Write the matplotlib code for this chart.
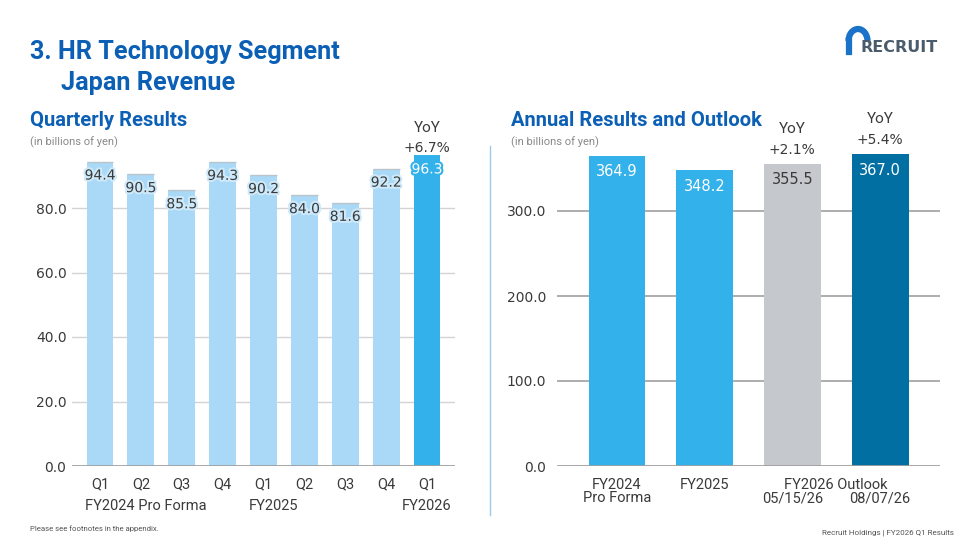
import matplotlib
matplotlib.use("Agg")
import matplotlib.pyplot as plt
import matplotlib.patheffects as pe
from matplotlib.patches import Arc

# ---- data ----
q_labels = ["Q1", "Q2", "Q3", "Q4", "Q1", "Q2", "Q3", "Q4", "Q1"]
q_values = [94.4, 90.5, 85.5, 94.3, 90.2, 84.0, 81.6, 92.2, 96.3]
q_groups = ["FY2024 Pro Forma", "FY2025", "FY2026"]
q_ticks = [0, 20, 40, 60, 80]
q_yoy = "+6.7%"

a_labels = ["FY2024\nPro Forma", "FY2025", "05/15/26", "08/07/26"]
a_values = [364.9, 348.2, 355.5, 367.0]
a_yoy = [None, None, "+2.1%", "+5.4%"]
a_ticks = [0, 100, 200, 300]

W, H = 968, 544
BLUE_T = "#0b5fb5"
LIGHT = "#a9d9f6"
MID = "#33b1ea"
GREY = "#c5c8cc"
DARK = "#026fa3"
TXT = "#3a3a3a"
GRID = "#d3d3d3"
AXIS = "#a0a0a0"

fig = plt.figure(figsize=(W / 100, H / 100), dpi=100)


def fx(px):
    return px / W


def fy(py):
    return 1 - py / H


def ftext(x, y, s, **kw):
    fig.text(fx(x), fy(y), s, **kw)


def px_axes(left, top, right, bottom):
    return fig.add_axes([fx(left), fy(bottom), (right - left) / W, (bottom - top) / H])


# ---- titles ----
ftext(30, 59, "3. HR Technology Segment", fontsize=18.2, fontweight="bold",
      color=BLUE_T, family="Roboto", va="baseline")
ftext(61, 90, "Japan Revenue", fontsize=18.2, fontweight="bold",
      color=BLUE_T, family="Roboto", va="baseline")
ftext(30, 126, "Quarterly Results", fontsize=14.5, fontweight="bold",
      color=BLUE_T, family="Roboto", va="baseline")
ftext(511, 126, "Annual Results and Outlook", fontsize=14.5, fontweight="bold",
      color=BLUE_T, family="Roboto", va="baseline")
ftext(30, 145, "(in billions of yen)", fontsize=8, color="#888888",
      family="Roboto", va="baseline")
ftext(511, 145, "(in billions of yen)", fontsize=8, color="#888888",
      family="Roboto", va="baseline")

# ---- left chart: quarterly ----
q_py = 3.225
q_step = 40.875
ax1 = px_axes(72, 140, 455, 466)
ax1.set_xlim((72 - 100) / q_step, (455 - 100) / q_step)
ax1.set_ylim(0, 326 / q_py)
qx = list(range(len(q_values)))
q_colors = [LIGHT] * (len(q_values) - 1) + [MID]
ax1.bar(qx, q_values, width=0.66, color=q_colors, zorder=2,
        edgecolor="none")
# thin shadow on bar tops
for x, v, c in zip(qx, q_values, q_colors):
    if c == LIGHT:
        ax1.plot([x - 0.33, x + 0.33], [v, v], color="#b9c4cc", lw=1,
                 zorder=3, solid_capstyle="butt")
for t in q_ticks[1:]:
    ax1.axhline(t, color=GRID, lw=1, zorder=1)
ax1.axhline(0, color=AXIS, lw=2, zorder=4)
for x, v, c in zip(qx, q_values, q_colors):
    if c == MID:
        ax1.text(x, v - 14 / q_py, f"{v:.1f}", ha="center", va="center",
                 fontsize=10, color="white", zorder=5,
                 path_effects=[pe.withStroke(linewidth=3, foreground=MID)])
    else:
        ax1.text(x, v - 14 / q_py, f"{v:.1f}", ha="center", va="center",
                 fontsize=10, color=TXT, zorder=5,
                 path_effects=[pe.withStroke(linewidth=3, foreground="#cde9fa")])
ax1.text(qx[-1], q_values[-1] + 27 / q_py, "YoY", ha="center", va="center",
         fontsize=11, color=TXT, family="Roboto")
ax1.text(qx[-1], q_values[-1] + 7 / q_py, q_yoy, ha="center", va="center",
         fontsize=10, color=TXT)
ax1.set_yticks(q_ticks)
ax1.set_yticklabels([f"{t:.1f}" for t in q_ticks], fontsize=10, color=TXT)
ax1.set_xticks(qx)
ax1.set_xticklabels(q_labels, fontsize=10.5, color=TXT, family="Roboto")
ax1.tick_params(axis="both", length=0)
ax1.tick_params(axis="y", pad=4)
ax1.tick_params(axis="x", pad=8)
for s in ax1.spines.values():
    s.set_visible(False)
ax1.patch.set_alpha(0)
# group labels
for gx, g in zip([1.12, 4.25, 8.0], q_groups):
    ax1.text(gx, -40 / q_py, g, ha="center", va="center",
             fontsize=10.5, color=TXT, family="Roboto")

# separator
fig.add_artist(plt.Line2D([fx(490), fx(490)], [fy(146), fy(515)],
                          color="#9ccbed", lw=1))

# ---- right chart: annual ----
a_step = 87.67
ay = 0.85
ax2 = px_axes(557, 140, 940, 466)
ax2.set_xlim((557 - 617) / a_step, (940 - 617) / a_step)
ax2.set_ylim(0, 326 / ay)
axx = list(range(len(a_values)))
a_colors = [MID, MID, GREY, DARK]
ax2.bar(axx, a_values, width=0.65, color=a_colors, zorder=2)
for t in a_ticks[1:]:
    ax2.axhline(t, color=AXIS, lw=1.2, zorder=1)
ax2.axhline(0, color=AXIS, lw=2, zorder=4)
for x, v, c in zip(axx, a_values, a_colors):
    ax2.text(x, v - 16 / ay, f"{v:.1f}", ha="center", va="center",
             fontsize=10.5, color=TXT if c == GREY else "white", zorder=5)
for x, v, y in zip(axx, a_values, a_yoy):
    if y:
        ax2.text(x, v + 35 / ay, "YoY", ha="center", va="center",
                 fontsize=11, color=TXT, family="Roboto")
        ax2.text(x, v + 14 / ay, y, ha="center", va="center",
                 fontsize=10, color=TXT)
ax2.set_yticks(a_ticks)
ax2.set_yticklabels([f"{t:.1f}" for t in a_ticks], fontsize=10, color=TXT)
ax2.set_xticks(axx)
ax2.set_xticklabels([])
ax2.tick_params(axis="both", length=0)
ax2.tick_params(axis="y", pad=8)
for s in ax2.spines.values():
    s.set_visible(False)
ax2.patch.set_alpha(0)
# category labels: first two on top row, outlook dates below a shared header
for x, lab in zip(axx, a_labels):
    lines = lab.split("\n")
    row0 = 0 if x < 2 else 1
    for i, ln in enumerate(lines):
        ax2.text(x, -(19 + 13.5 * (row0 + i)) / ay, ln, ha="center", va="center",
                 fontsize=10.5, color=TXT, family="Roboto")
ax2.text((axx[2] + axx[3]) / 2, -19 / ay, "FY2026 Outlook",
         ha="center", va="center", fontsize=10.5, color=TXT, family="Roboto")

# ---- logo ----
fig.add_artist(Arc((fx(858), fy(41)), fx(19), 24 / H, theta1=0, theta2=180,
                   color="#1a73c9", lw=4.5))
fig.add_artist(plt.Line2D([fx(848.5), fx(848.5)], [fy(41), fy(52)],
                          color="#1a73c9", lw=4.5))
ftext(861, 52, "RECRUIT", fontsize=11.5, fontweight="bold", color="#4a5b6b",
      family="DejaVu Sans", va="baseline")

# ---- footer ----
ftext(30, 531, "Please see footnotes in the appendix.", fontsize=5.6,
      color="#555555", family="Roboto", va="baseline")
ftext(954, 535, "Recruit Holdings | FY2026 Q1 Results", fontsize=5.8,
      color="#555555", family="Roboto", va="baseline", ha="right")

fig.savefig("out.png", dpi=100)
